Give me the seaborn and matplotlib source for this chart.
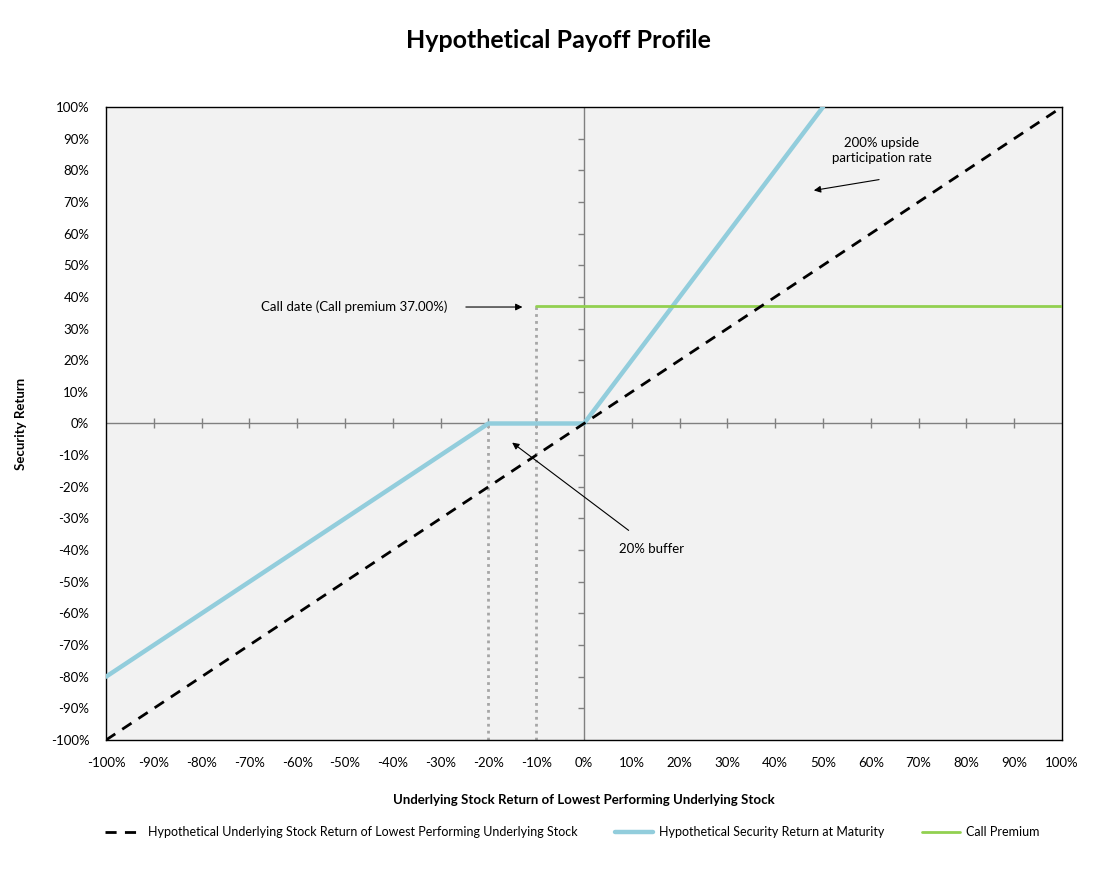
import numpy as np
import pandas as pd
import matplotlib
matplotlib.use("Agg")
import matplotlib.pyplot as plt
import matplotlib.markers as mmarkers
import seaborn as sns

# data (percent)
underlying_x = [-100, 100]
underlying_y = [-100, 100]
security_x = [-100, -20, 0, 50]
security_y = [-80, 0, 0, 100]
premium_x = [-10, 100]
premium_y = [37, 37]
buffer_level = -20
call_level = -10
call_premium = 37
tick_vals = list(range(-100, 101, 10))
tick_labels = [f"{v}%" for v in tick_vals]

sns.set_style("white")
plt.rcParams["font.family"] = ["Lato", "DejaVu Sans"]
plt.rcParams["text.color"] = "black"
plt.rcParams["axes.labelcolor"] = "black"
plt.rcParams["xtick.color"] = "black"
plt.rcParams["ytick.color"] = "black"

fig = plt.figure(figsize=(11.17, 8.74), dpi=100)
ax = fig.add_axes([0.0949, 0.1533, 0.8559, 0.7243])
ax.set_facecolor("#F2F2F2")

# center axes lines with small ticks
ax.axhline(0, color="#808080", lw=1, zorder=1)
ax.axvline(0, color="#808080", lw=1, zorder=1)
inner = [v for v in tick_vals if v not in (-100, 0, 100)]
ax.plot(inner, [0] * len(inner), linestyle="none", marker="|", ms=7,
        mew=1, color="#808080", zorder=1)
ax.plot([0] * len(inner), inner, linestyle="none", marker=mmarkers.TICKLEFT,
        ms=4, mew=1, color="#808080", zorder=1)

# dotted guide lines
ax.vlines(buffer_level, -100, 0, colors="#A6A6A6", lw=2,
          linestyles=(0, (1, 1.5)), zorder=2)
ax.vlines(call_level, -100, call_premium, colors="#A6A6A6", lw=2,
          linestyles=(0, (1, 1.5)), zorder=2)

lab1 = "Hypothetical Underlying Stock Return of Lowest Performing Underlying Stock"
lab2 = "Hypothetical Security Return at Maturity"
lab3 = "Call Premium"

sns.lineplot(x=underlying_x, y=underlying_y, ax=ax, color="black", lw=2,
             linestyle=(0, (4, 3)), label=lab1, zorder=4, sort=False)
sns.lineplot(x=security_x, y=security_y, ax=ax, color="#92CDDC", lw=3.2,
             label=lab2, zorder=3, sort=False)
sns.lineplot(x=premium_x, y=premium_y, ax=ax, color="#92D050", lw=2,
             label=lab3, zorder=3, sort=False)

ax.set_xlim(-100, 100)
ax.set_ylim(-100, 100)
ax.set_xticks(tick_vals)
ax.set_xticklabels(tick_labels)
ax.set_yticks(tick_vals)
ax.set_yticklabels(tick_labels)
ax.tick_params(length=0, labelsize=9.5, pad=12)
for s in ax.spines.values():
    s.set_color("black")
    s.set_linewidth(1)

ax.set_xlabel("Underlying Stock Return of Lowest Performing Underlying Stock",
              fontsize=9.5, fontweight="bold", labelpad=18)
ax.set_ylabel("Security Return", fontsize=9.5, fontweight="bold")
ax.yaxis.set_label_coords(-0.083, 0.5)
fig.suptitle("Hypothetical Payoff Profile", fontsize=18, fontweight="bold",
             y=0.967)

# annotations
ax.annotate("", xy=(-12.3, 36.8), xytext=(-25.3, 36.8),
            arrowprops=dict(arrowstyle="-|>", color="black", lw=0.8))
ax.text(-28.5, 36.8, "Call date (Call premium 37.00%)", ha="right",
        va="center", fontsize=9.5)
ax.annotate("", xy=(47.5, 73.5), xytext=(62.3, 77.2),
            arrowprops=dict(arrowstyle="-|>", color="black", lw=0.8))
ax.text(62.3, 86.4, "200% upside\nparticipation rate", ha="center",
        va="center", fontsize=9.5, linespacing=1.3)
ax.annotate("", xy=(-15.5, -5.5), xytext=(9.8, -34.3),
            arrowprops=dict(arrowstyle="-|>", color="black", lw=0.8))
ax.text(14.2, -39.7, "20% buffer", ha="center", va="center", fontsize=9.5)

handles, labels = ax.get_legend_handles_labels()
ax.get_legend().remove()
fig.legend(handles, labels, loc="center", bbox_to_anchor=(0.512, 0.048),
           ncol=3, frameon=False, fontsize=9, handlelength=3,
           columnspacing=3, handletextpad=0.5)

fig.savefig("out.png", dpi=100)
